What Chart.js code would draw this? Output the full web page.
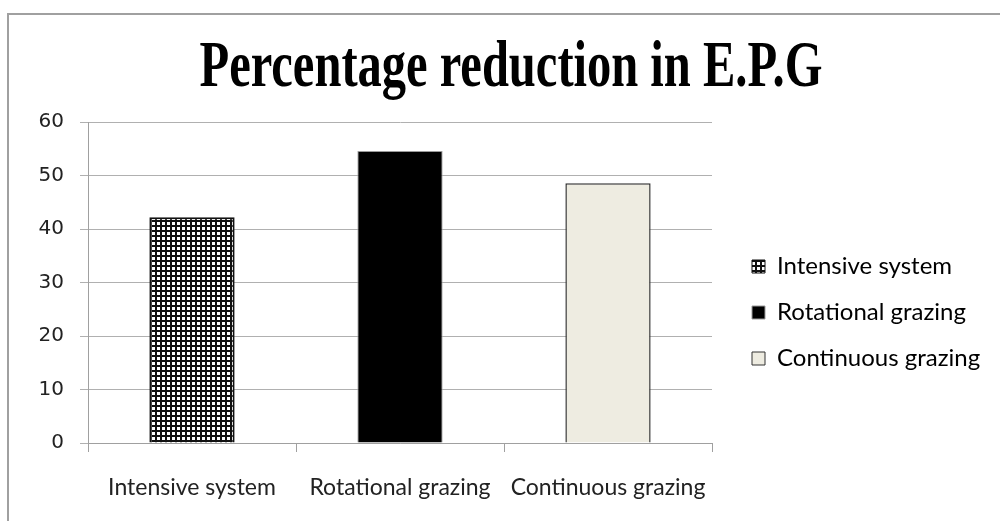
<!DOCTYPE html>
<html>
<head>
<meta charset="utf-8">
<script src="https://cdn.jsdelivr.net/npm/chart.js@4/dist/chart.umd.min.js"></script>
<style>
  html, body { margin: 0; padding: 0; background: #fff; }
  #wrap { position: relative; width: 1000px; height: 521px; overflow: hidden; }
  #frame { position: absolute; left: 7px; top: 13px; width: 1100px; height: 700px; border: 2px solid #a0a0a0; }
  #chart { position: absolute; left: 0; top: 0; }
</style>
</head>
<body>
<div id="wrap">
  <div id="frame"></div>
  <canvas id="chart" width="1000" height="521"></canvas>
</div>
<script>
const categories = ['Intensive system', 'Rotational grazing', 'Continuous grazing'];
const values = [42.2, 54.6, 48.6];
const yMin = 0, yMax = 60, yStep = 10;

function gridPattern() {
  let c = document.createElement('canvas');
  c.width = 5; c.height = 5;
  let x = c.getContext('2d');
  x.fillStyle = '#fff';
  x.fillRect(0, 0, 5, 5);
  x.fillStyle = '#111';
  x.fillRect(0, 0, 2, 5);
  x.fillRect(0, 0, 5, 2);
  return x.createPattern(c, 'repeat');
}

const fills = [gridPattern(), '#000000', '#eeece1'];
const borders = ['#111111', '#9a9a9a', '#333333'];
const borderWidths = [2, 1, 1.5];

// the original title is tall and narrow, so squeeze it sideways
const titleSqueeze = 0.735;
const legendWidth = 288, legendShiftX = 18, legendShiftY = 42;

const layoutTweaks = {
  id: 'layoutTweaks',
  afterInit(chart) {
    const tb = chart.titleBlock;
    tb.draw = function () {
      const ctx = this.ctx;
      const cx = (this.left + this.right) / 2;
      ctx.save();
      ctx.translate(cx, 0);
      ctx.scale(titleSqueeze, 1);
      ctx.translate(-cx, 0);
      Object.getPrototypeOf(this).draw.call(this);
      ctx.restore();
    };
    const lg = chart.legend;
    lg.fit = function () {
      Object.getPrototypeOf(this).fit.call(this);
      this.width = legendWidth;
    };
  },
  afterLayout(chart) {
    chart.legend.left += legendShiftX;
    chart.legend.right += legendShiftX;
    chart.legend.top += legendShiftY;
    chart.legend.bottom += legendShiftY;
  }
};

new Chart('chart', {
  type: 'bar',
  data: {
    labels: categories,
    datasets: [{
      data: values,
      backgroundColor: fills,
      borderColor: borders,
      borderWidth: borderWidths,
      barPercentage: 0.41,
      categoryPercentage: 1
    }]
  },
  options: {
    responsive: false,
    animation: false,
    layout: { padding: { left: 22, right: 0, top: 20, bottom: 0 } },
    plugins: {
      title: {
        display: true,
        text: 'Percentage reduction in E.P.G',
        color: '#000',
        font: { family: 'Liberation Serif', size: 66, weight: 'bold' },
        padding: { top: 9, bottom: 14 }
      },
      legend: {
        position: 'right',
        align: 'center',
        labels: {
          color: '#222',
          font: { family: 'Lato', size: 24 },
          boxWidth: 13,
          boxHeight: 13,
          padding: 22,
          generateLabels: (chart) => categories.map((c, i) => ({
            text: c,
            fillStyle: fills[i],
            strokeStyle: borders[i],
            lineWidth: 1,
            index: i,
            datasetIndex: 0
          }))
        }
      },
      tooltip: { enabled: false }
    },
    scales: {
      x: {
        afterFit(scale) { scale.height = 78; },
        grid: { display: true, offset: true, drawOnChartArea: false, drawTicks: true, tickLength: 9, color: '#a0a0a0' },
        border: { display: true, color: '#a0a0a0' },
        ticks: { color: '#222', font: { family: 'Lato', size: 23 }, padding: 22, maxRotation: 0 }
      },
      y: {
        min: yMin,
        max: yMax,
        afterFit(scale) { scale.width = 66; },
        grid: { color: '#b0b0b0', tickLength: 8 },
        border: { display: true, color: '#a0a0a0' },
        ticks: { stepSize: yStep, color: '#222', font: { family: 'DejaVu Sans', size: 20 }, padding: 16 }
      }
    }
  },
  plugins: [layoutTweaks]
});
</script>
</body>
</html>
